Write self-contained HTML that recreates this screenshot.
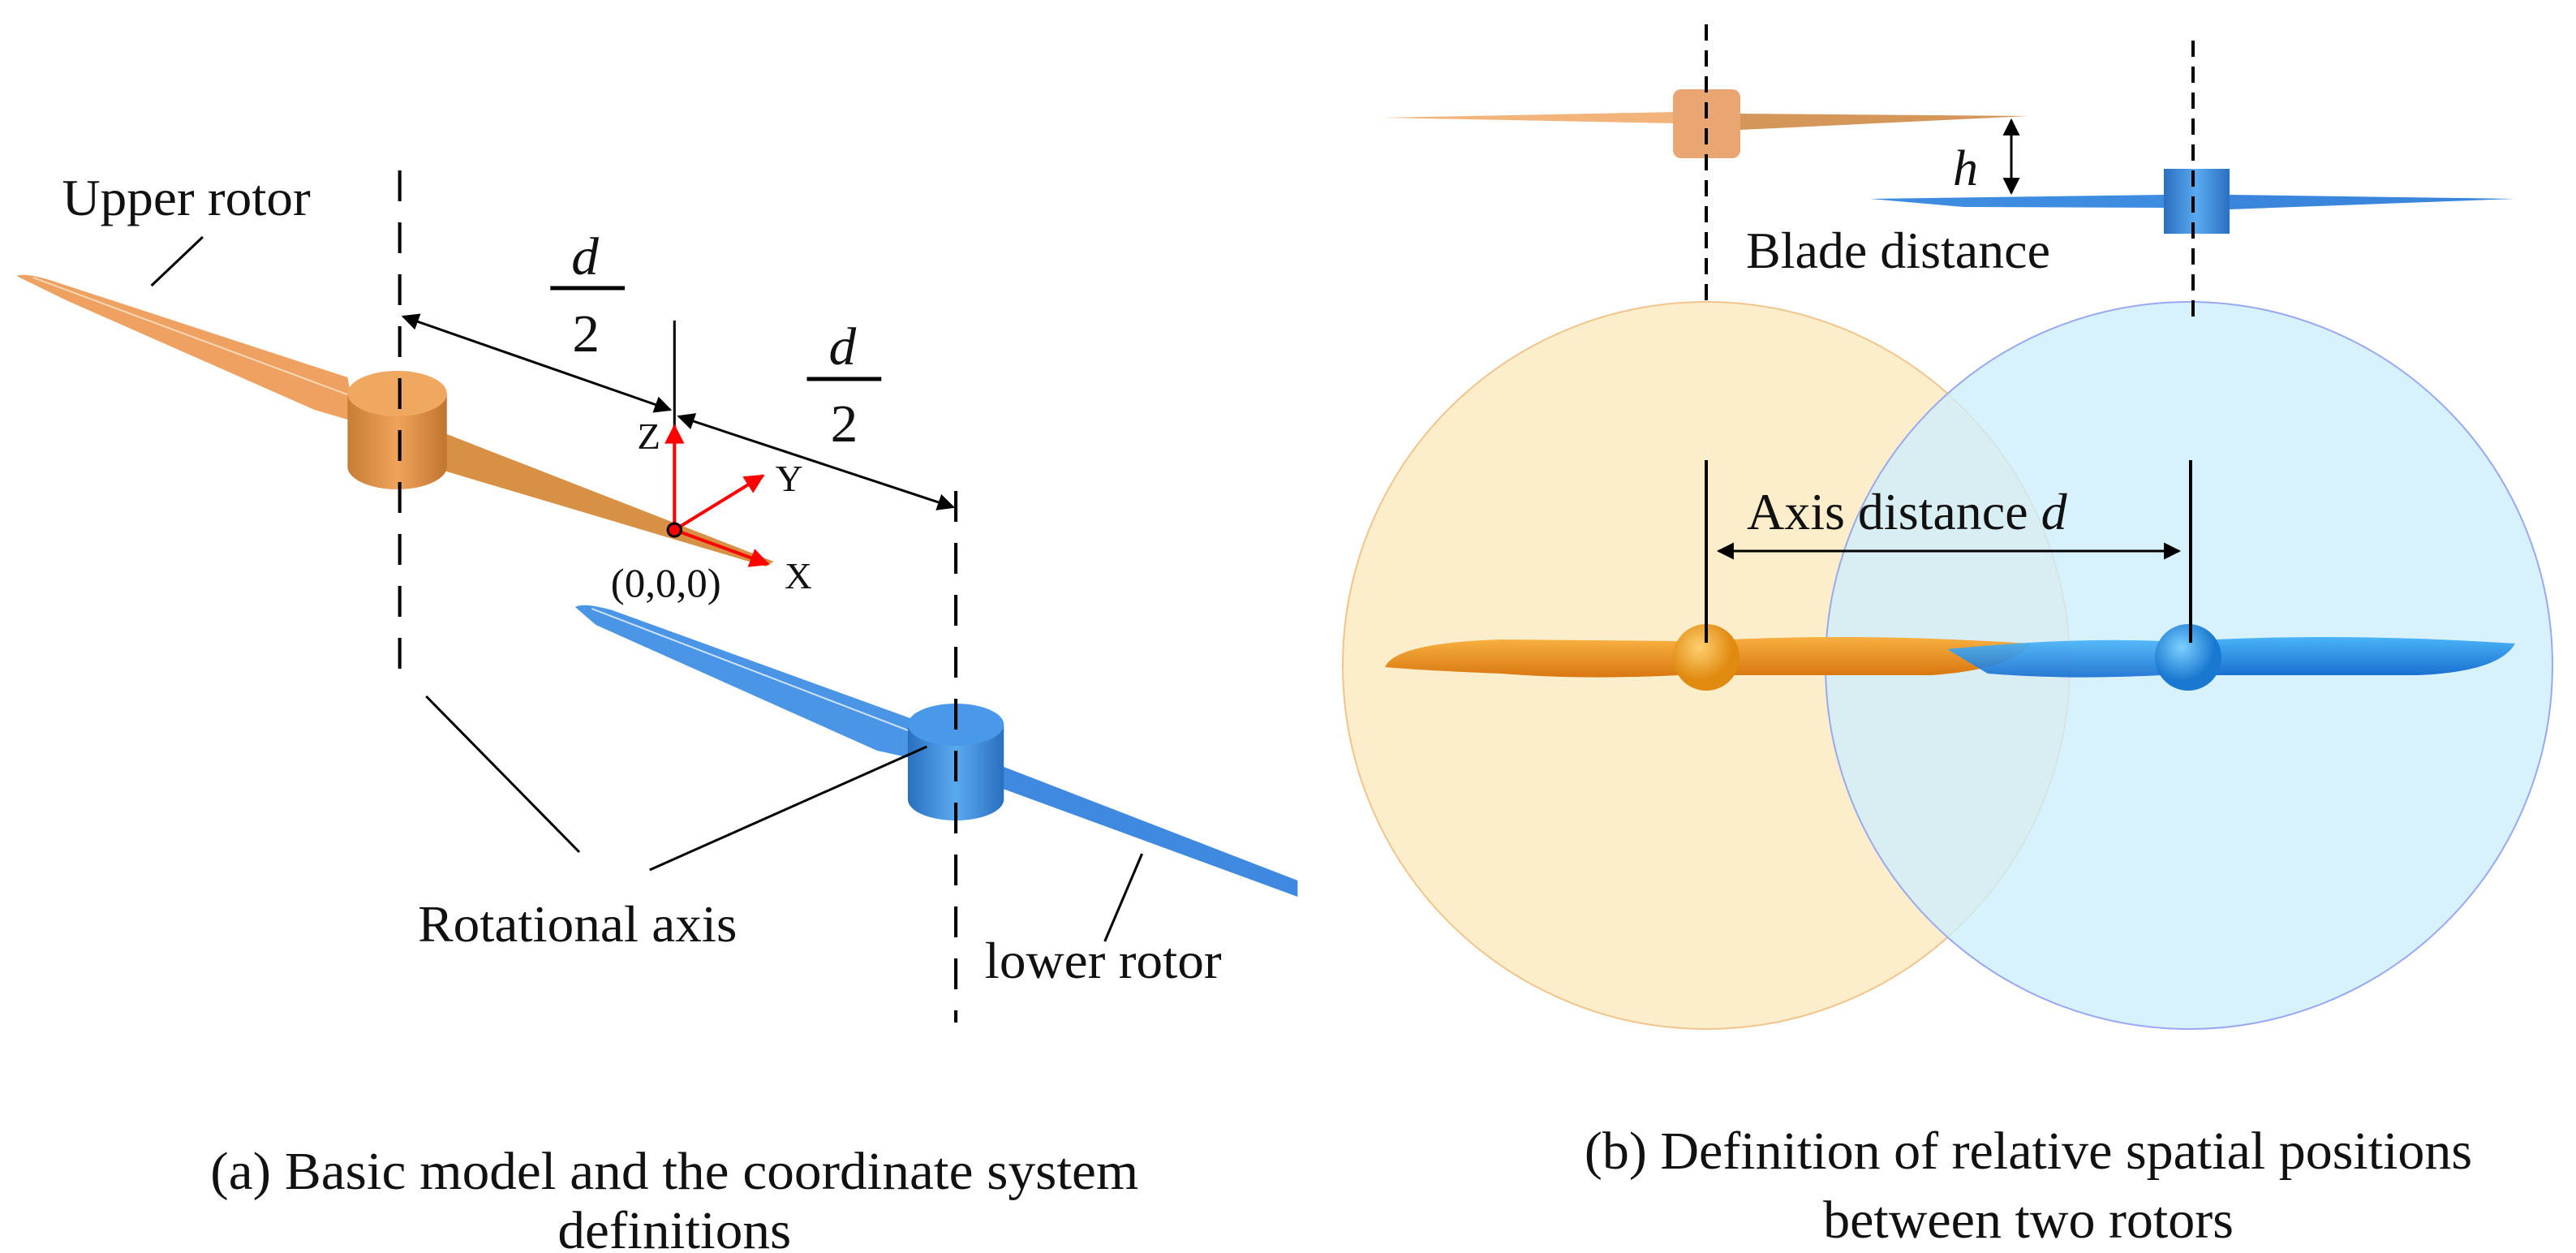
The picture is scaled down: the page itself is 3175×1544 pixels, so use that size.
<!DOCTYPE html>
<html><head><meta charset="utf-8"><style>
html,body{margin:0;padding:0;background:#fff}
svg{display:block}
text{font-family:"Liberation Serif",serif;fill:#111}
</style></head><body>
<svg width="3175" height="1544" viewBox="0 0 3175 1544" xmlns="http://www.w3.org/2000/svg">
<defs>
<marker id="ah" viewBox="0 0 10 10" refX="9" refY="5" markerWidth="9" markerHeight="7" orient="auto-start-reverse" markerUnits="strokeWidth"><path d="M0,0 L10,5 L0,10 z" fill="#000"/></marker>
<marker id="ar" viewBox="0 0 10 10" refX="9" refY="5" markerWidth="7" markerHeight="6" orient="auto" markerUnits="strokeWidth"><path d="M0,0 L10,5 L0,10 z" fill="#f00"/></marker>
<linearGradient id="og" x1="0" x2="1"><stop offset="0" stop-color="#c77d35"/><stop offset=".5" stop-color="#f0a35a"/><stop offset="1" stop-color="#c07530"/></linearGradient>
<linearGradient id="bg" x1="0" x2="1"><stop offset="0" stop-color="#2a6fc0"/><stop offset=".5" stop-color="#5aaaf0"/><stop offset="1" stop-color="#2a6fc0"/></linearGradient>
<linearGradient id="ob" x1="0" y1="0" x2="0" y2="1"><stop offset="0" stop-color="#f8b040"/><stop offset="1" stop-color="#d87810"/></linearGradient>
<linearGradient id="bb" x1="0" y1="0" x2="0" y2="1"><stop offset="0" stop-color="#4ab4f8"/><stop offset="1" stop-color="#1a70d0"/></linearGradient>
<radialGradient id="os" cx=".4" cy=".35"><stop offset="0" stop-color="#ffd070"/><stop offset="1" stop-color="#e08a10"/></radialGradient>
<radialGradient id="bs" cx=".4" cy=".35"><stop offset="0" stop-color="#7cd0ff"/><stop offset="1" stop-color="#1a78d0"/></radialGradient>
</defs>

<!-- LEFT PANEL -->
<g transform="scale(1.02,1)">
<path d="M20,340 Q30,336 60,345 L420,465 L430,520 L380,505 L80,370 Z" fill="#eea160"/>
<path d="M540,535 L935,692 L925,698 L520,575 Z" fill="#d79044"/>
<line x1="40" y1="342" x2="430" y2="490" stroke="#f5d8b8" stroke-width="2"/>
<path d="M420,485 L420,575 A60,28 0 0 0 540,575 L540,485 Z" fill="url(#og)"/>
<ellipse cx="480" cy="485" rx="60" ry="28" fill="#f0a860"/>
<path d="M695,748 Q705,742 740,752 L1100,885 L1105,935 L1060,925 L720,770 Z" fill="#4a95e5"/>
<path d="M1213,945 L1568,1085 L1568,1105 L1180,960 Z" fill="#3f8ae0"/>
<line x1="715" y1="750" x2="1110" y2="905" stroke="#cfe4fa" stroke-width="2"/>
<path d="M1097,893 L1097,985 A58,26 0 0 0 1213,985 L1213,893 Z" fill="url(#bg)"/>
<ellipse cx="1155" cy="893" rx="58" ry="26" fill="#4a98ea"/>
<line x1="483" y1="210" x2="483" y2="845" stroke="#000" stroke-width="4" stroke-dasharray="38,26"/>
<line x1="1155" y1="605" x2="1155" y2="1260" stroke="#000" stroke-width="4" stroke-dasharray="38,26"/>
<line x1="815" y1="395" x2="815" y2="650" stroke="#000" stroke-width="3"/>
<line x1="487" y1="390" x2="810" y2="505" stroke="#000" stroke-width="3" marker-start="url(#ah)" marker-end="url(#ah)"/>
<line x1="820" y1="513" x2="1152" y2="625" stroke="#000" stroke-width="3" marker-start="url(#ah)" marker-end="url(#ah)"/>
<text x="707" y="338" font-size="66" font-style="italic" text-anchor="middle">d</text>
<line x1="665" y1="355" x2="755" y2="355" stroke="#000" stroke-width="5"/>
<text x="708" y="433" font-size="66" text-anchor="middle">2</text>
<text x="1018" y="449" font-size="66" font-style="italic" text-anchor="middle">d</text>
<line x1="975" y1="467" x2="1065" y2="467" stroke="#000" stroke-width="5"/>
<text x="1020" y="544" font-size="66" text-anchor="middle">2</text>
<line x1="815" y1="653" x2="815" y2="525" stroke="#f00" stroke-width="4" marker-end="url(#ar)"/>
<line x1="815" y1="653" x2="922" y2="586" stroke="#f00" stroke-width="4" marker-end="url(#ar)"/>
<line x1="815" y1="653" x2="928" y2="695" stroke="#f00" stroke-width="4" marker-end="url(#ar)"/>
<circle cx="815" cy="653" r="8" fill="#f00" stroke="#000" stroke-width="3"/>
<text x="770" y="553" font-size="46">Z</text>
<text x="937" y="605" font-size="46">Y</text>
<text x="948" y="725" font-size="46">X</text>
<text x="738" y="735" font-size="50">(0,0,0)</text>
<line x1="245" y1="292" x2="183" y2="352" stroke="#000" stroke-width="3"/>
<line x1="515" y1="858" x2="700" y2="1050" stroke="#000" stroke-width="3"/>
<line x1="1120" y1="920" x2="785" y2="1072" stroke="#000" stroke-width="3"/>
<line x1="1380" y1="1052" x2="1335" y2="1160" stroke="#000" stroke-width="3"/>
<text x="75" y="265" font-size="64">Upper rotor</text>
<text x="505" y="1160" font-size="64">Rotational axis</text>
<text x="1190" y="1205" font-size="64">lower rotor</text>
<text x="815" y="1465" font-size="66" text-anchor="middle">(a) Basic model and the coordinate system</text>
<text x="815" y="1538" font-size="66" text-anchor="middle">definitions</text>
</g>

<!-- RIGHT PANEL -->
<g>
<circle cx="2103" cy="820" r="448" fill="#fdeecb" stroke="#f1c48c" stroke-width="2"/>
<circle cx="2698" cy="820" r="448" fill="#cdeefc" stroke="#9aa8f0" stroke-width="2" fill-opacity="0.78"/>
<path d="M1705,145 L2065,138 L2065,152 Z" fill="#f2b47a"/>
<path d="M2145,140 L2500,143 L2145,160 Z" fill="#d5965a"/>
<rect x="2062" y="110" width="83" height="85" rx="10" fill="#eaa672"/>
<path d="M2305,245 L2668,240 L2668,256 L2420,255 Z" fill="#3e8ce0"/>
<path d="M2748,240 L3100,245 L2748,258 Z" fill="#3a86dc"/>
<rect x="2667" y="208" width="81" height="80" fill="url(#bg)"/>
<line x1="2103" y1="30" x2="2103" y2="375" stroke="#000" stroke-width="4" stroke-dasharray="20,12"/>
<line x1="2703" y1="50" x2="2703" y2="395" stroke="#000" stroke-width="4" stroke-dasharray="20,12"/>
<line x1="2479" y1="148" x2="2479" y2="238" stroke="#000" stroke-width="3" marker-start="url(#ah)" marker-end="url(#ah)"/>
<text x="2407" y="228" font-size="62" font-style="italic">h</text>
<text x="2152" y="330" font-size="64">Blade distance</text>
<path d="M1707,822 Q1720,792 1850,788 L2070,790 L2070,832 Q1950,838 1850,830 Q1750,826 1707,822 Z" fill="url(#ob)"/>
<path d="M2135,788 Q2300,780 2502,793 Q2480,825 2380,832 L2135,832 Z" fill="url(#ob)"/>
<path d="M2400,800 Q2550,785 2665,790 L2665,832 Q2550,838 2450,830 Z" fill="url(#bb)" fill-opacity="0.92"/>
<path d="M2730,788 Q2900,780 3100,793 Q3080,828 2980,832 L2730,832 Z" fill="url(#bb)"/>
<circle cx="2103" cy="810" r="41" fill="url(#os)"/>
<circle cx="2697" cy="810" r="41" fill="url(#bs)"/>
<line x1="2103" y1="567" x2="2103" y2="792" stroke="#000" stroke-width="4"/>
<line x1="2700" y1="567" x2="2700" y2="792" stroke="#000" stroke-width="4"/>
<line x1="2118" y1="679" x2="2686" y2="679" stroke="#000" stroke-width="3" marker-start="url(#ah)" marker-end="url(#ah)"/>
<text x="2153" y="652" font-size="64">Axis distance <tspan font-style="italic">d</tspan></text>
<text x="2500" y="1440" font-size="66" text-anchor="middle">(b) Definition of relative spatial positions</text>
<text x="2500" y="1525" font-size="66" text-anchor="middle">between two rotors</text>
</g>
</svg>
</body></html>
